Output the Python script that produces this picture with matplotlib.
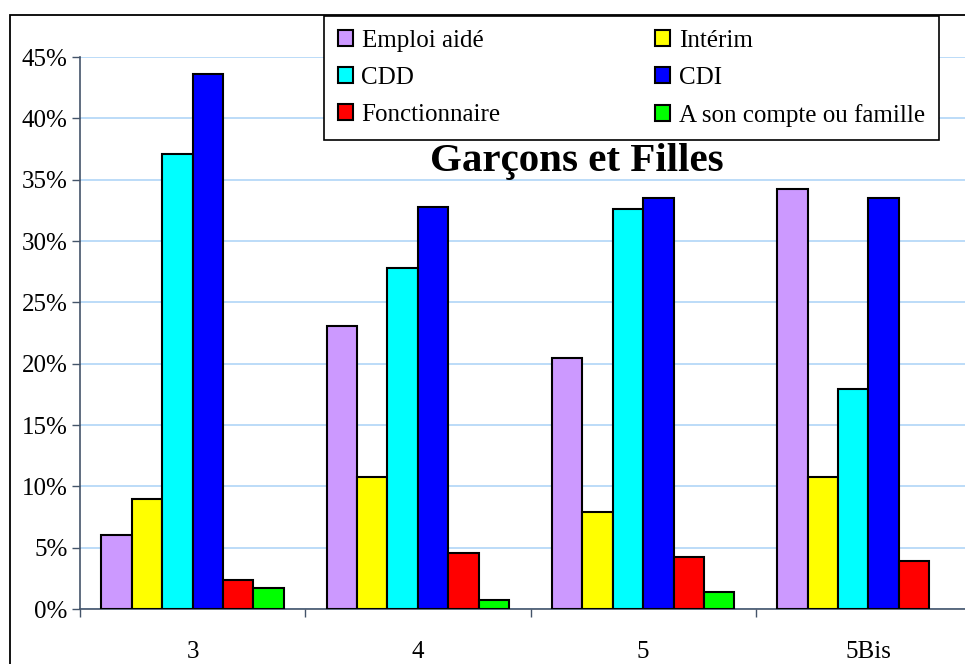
import numpy as np
import matplotlib
matplotlib.use("Agg")
import matplotlib.pyplot as plt
from matplotlib.patches import Rectangle
from matplotlib.ticker import FuncFormatter

plt.rcParams['font.family'] = ['Liberation Serif', 'DejaVu Serif']

groups = ['3', '4', '5', '5Bis']
series_names = ['Emploi aidé', 'Intérim', 'CDD', 'CDI',
                'Fonctionnaire', 'A son compte ou famille']
emploi_aide = [6.0, 23.1, 20.5, 34.2]
interim = [9.0, 10.8, 7.9, 10.8]
cdd = [37.1, 27.8, 32.6, 17.9]
cdi = [43.6, 32.8, 33.5, 33.5]
fonctionnaire = [2.4, 4.6, 4.2, 3.9]
a_son_compte = [1.7, 0.7, 1.4, None]   # pas de barre pour 5Bis
colors = ['#cc99ff', '#ffff00', '#00ffff', '#0000ff', '#ff0000', '#00ff00']

series = [emploi_aide, interim, cdd, cdi, fonctionnaire, a_son_compte]

fig = plt.figure(figsize=(9.65, 6.64), dpi=100)
ax = fig.add_axes([80/965, 1 - 609/664, 901/965, 552/664])

width = 0.135
x = np.arange(len(groups))
handles = []
for i, (vals, name, col) in enumerate(zip(series, series_names, colors)):
    xs = [xx + (i - 2.5)*width for xx, v in zip(x, vals) if v is not None]
    hs = [v for v in vals if v is not None]
    b = ax.bar(xs, hs, width=width, color=col, edgecolor='black', linewidth=1.5,
               label=name, zorder=3)
    handles.append(b)

ax.set_xlim(-0.5, 3.5)
ax.set_ylim(0, 45)
ax.set_yticks(np.arange(0, 46, 5))
ax.yaxis.set_major_formatter(FuncFormatter(lambda v, p: '%d%%' % v))
ax.yaxis.grid(True, color='#a9d2f7', linewidth=1.1, zorder=0)
ax.set_axisbelow(True)

ax.set_xticks(x)
ax.set_xticklabels(groups)
ax.set_xticks(np.arange(-0.5, 3.6, 1), minor=True)
ax.tick_params(axis='x', which='major', length=0, pad=23, labelsize=18)
ax.tick_params(axis='x', which='minor', length=6, width=1, color='#44546a')
ax.tick_params(axis='y', length=6, width=1, color='#44546a', pad=3, labelsize=18)

for s in ['top', 'right']:
    ax.spines[s].set_visible(False)
for s in ['left', 'bottom']:
    ax.spines[s].set_color('#44546a')
    ax.spines[s].set_linewidth(1.2)

# cadre du graphique
fig.patches.append(Rectangle((10/965, -0.1), 1.2, 1.1 - 15/664, fill=False,
                             edgecolor='black', linewidth=1.3,
                             transform=fig.transFigure, figure=fig))

# legende remplie ligne par ligne
order = [0, 2, 4, 1, 3, 5]
leg = fig.legend([handles[k] for k in order], [series_names[k] for k in order],
                 loc='upper left',
                 bbox_to_anchor=(324/965, 1 - 137/664, 615/965, 121/664),
                 mode='expand', ncol=2, fontsize=18, frameon=True,
                 fancybox=False, edgecolor='black', framealpha=1,
                 handlelength=0.6, handleheight=0.6, handletextpad=0.35,
                 labelspacing=0.6, borderpad=0.55, borderaxespad=0)
leg.get_frame().set_linewidth(1.2)

fig.text(577/965, 1 - 161/664, 'Garçons et Filles', ha='center', va='center',
         fontsize=29.5, fontweight='bold')

fig.savefig('out.png', dpi=100)
